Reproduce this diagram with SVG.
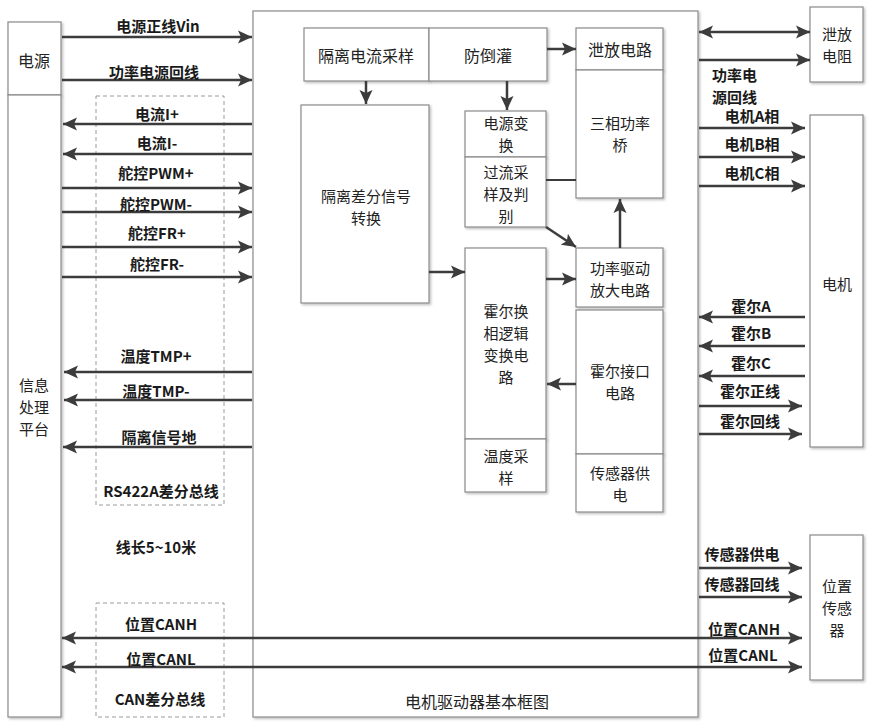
<svg xmlns="http://www.w3.org/2000/svg" width="873" height="726" viewBox="0 0 873 726">
<defs>
<filter id="sh" x="-10%" y="-10%" width="130%" height="130%"><feDropShadow dx="1.5" dy="1.5" stdDeviation="1" flood-color="#000" flood-opacity="0.25"/></filter>
<marker id="ah" markerUnits="userSpaceOnUse" markerWidth="15" markerHeight="14" refX="14" refY="7" orient="auto-start-reverse"><path d="M0,0.5 L14,7 L0,13.5 L3,7 z" fill="#3c3c3c"/></marker>
<style>
.box{fill:#fff;stroke:#8a8a8a;stroke-width:1.2;filter:url(#sh)}
.dash{fill:none;stroke:#9a9a9a;stroke-width:1;stroke-dasharray:4 3}
.lbl{font-family:"Noto Sans CJK SC","Noto Sans",sans-serif;font-weight:bold;font-size:15px;fill:#1a1a1a;text-anchor:middle;dominant-baseline:central}
.bt{font-family:"Noto Sans CJK SC","Noto Sans",sans-serif;font-size:15px;fill:#222;text-anchor:middle;dominant-baseline:central}
.ln{stroke:#3c3c3c;stroke-width:2.5;fill:none;marker-end:url(#ah)}
.dbl{marker-start:url(#ah)}
.pl{stroke:#3c3c3c;stroke-width:2;fill:none}
</style>
</defs>
<rect width="873" height="726" fill="#fff"/>

<g id="main-box"><rect class="box" x="253" y="11" width="445" height="706"/><text class="bt" x="477" y="701" style="font-size:16px">电机驱动器基本框图</text></g>
<g id="power-src"><rect class="box" x="8" y="22" width="53" height="73"/><text class="bt" x="34" y="60" style="font-size:16px">电源</text></g>
<g id="info-platform"><rect class="box" x="8" y="95" width="53" height="622"/><text class="bt" x="34" y="384">信息</text><text class="bt" x="34" y="406">处理</text><text class="bt" x="34" y="428">平台</text></g>
<g id="bleed-res"><rect class="box" x="810" y="7" width="53" height="75"/><text class="bt" x="837" y="33">泄放</text><text class="bt" x="837" y="55">电阻</text></g>
<g id="motor"><rect class="box" x="810" y="115" width="53" height="332"/><text class="bt" x="837" y="283">电机</text></g>
<g id="pos-sensor"><rect class="box" x="810" y="535" width="53" height="145"/><text class="bt" x="837" y="585">位置</text><text class="bt" x="837" y="607">传感</text><text class="bt" x="837" y="629">器</text></g>

<g id="rs422-bus"><rect class="dash" x="96" y="96" width="128" height="409"/><text class="lbl" x="161" y="490">RS422A差分总线</text></g>
<g id="can-bus"><rect class="dash" x="96" y="603" width="128" height="114"/><text class="lbl" x="160" y="698">CAN差分总线</text></g>
<text class="lbl" x="156" y="546">线长5~10米</text>

<g id="iso-cur"><rect class="box" x="304" y="28" width="125" height="53"/><text class="bt" x="366" y="55" style="font-size:16px">隔离电流采样</text></g>
<g id="anti-back"><rect class="box" x="429" y="28" width="118" height="53"/><text class="bt" x="488" y="55" style="font-size:16px">防倒灌</text></g>
<g id="bleed-circ"><rect class="box" x="576" y="28" width="87" height="42"/><text class="bt" x="620" y="49" style="font-size:16px">泄放电路</text></g>
<g id="bridge"><rect class="box" x="576" y="70" width="87" height="128"/><text class="bt" x="620" y="122">三相功率</text><text class="bt" x="620" y="144">桥</text></g>
<g id="iso-diff"><rect class="box" x="301" y="105" width="128" height="198"/><text class="bt" x="366" y="195">隔离差分信号</text><text class="bt" x="366" y="217">转换</text></g>
<g id="pwr-conv"><rect class="box" x="465" y="111" width="81" height="46"/><text class="bt" x="506" y="122">电源变</text><text class="bt" x="506" y="144">换</text></g>
<g id="oc-detect"><rect class="box" x="465" y="157" width="81" height="70"/><text class="bt" x="506" y="171">过流采</text><text class="bt" x="506" y="193">样及判</text><text class="bt" x="506" y="215">别</text></g>
<g id="pwr-drive"><rect class="box" x="576" y="248" width="87" height="59"/><text class="bt" x="620" y="267">功率驱动</text><text class="bt" x="620" y="289">放大电路</text></g>
<g id="hall-logic"><rect class="box" x="465" y="248" width="81" height="191"/><text class="bt" x="506" y="310">霍尔换</text><text class="bt" x="506" y="332">相逻辑</text><text class="bt" x="506" y="354">变换电</text><text class="bt" x="506" y="376">路</text></g>
<g id="temp-sample"><rect class="box" x="465" y="439" width="81" height="53"/><text class="bt" x="506" y="455">温度采</text><text class="bt" x="506" y="477">样</text></g>
<g id="hall-if"><rect class="box" x="576" y="310" width="87" height="144"/><text class="bt" x="620" y="370">霍尔接口</text><text class="bt" x="620" y="392">电路</text></g>
<g id="sensor-pwr"><rect class="box" x="576" y="454" width="87" height="58"/><text class="bt" x="620" y="472">传感器供</text><text class="bt" x="620" y="494">电</text></g>

<g id="connectors">
<line class="ln" x1="62" y1="37" x2="252" y2="37"/>
<line class="ln" x1="62" y1="80" x2="252" y2="80"/>
<line class="ln" x1="252" y1="124" x2="63" y2="124"/>
<line class="ln" x1="252" y1="154" x2="63" y2="154"/>
<line class="ln" x1="62" y1="188" x2="252" y2="188"/>
<line class="ln" x1="62" y1="212" x2="252" y2="212"/>
<line class="ln" x1="62" y1="247" x2="252" y2="247"/>
<line class="ln" x1="62" y1="277" x2="252" y2="277"/>
<line class="ln" x1="252" y1="372" x2="64" y2="372"/>
<line class="ln" x1="252" y1="400" x2="64" y2="400"/>
<line class="ln" x1="252" y1="447" x2="63" y2="447"/>
<line class="ln dbl" x1="62" y1="638" x2="802" y2="638"/>
<line class="ln dbl" x1="62" y1="667" x2="802" y2="667"/>

<line class="ln dbl" x1="699" y1="32" x2="810" y2="32"/>
<line class="ln" x1="699" y1="60" x2="810" y2="60"/>
<line class="ln" x1="699" y1="128" x2="805" y2="128"/>
<line class="ln" x1="699" y1="157" x2="805" y2="157"/>
<line class="ln" x1="699" y1="186" x2="805" y2="186"/>
<line class="ln" x1="805" y1="317" x2="699" y2="317"/>
<line class="ln" x1="805" y1="346" x2="699" y2="346"/>
<line class="ln" x1="805" y1="376" x2="699" y2="376"/>
<line class="ln" x1="699" y1="406" x2="802" y2="406"/>
<line class="ln" x1="699" y1="434" x2="802" y2="434"/>
<line class="ln" x1="699" y1="568" x2="802" y2="568"/>
<line class="ln" x1="699" y1="597" x2="802" y2="597"/>

<line class="ln" x1="366" y1="81" x2="366" y2="104"/>
<line class="ln" x1="507" y1="81" x2="507" y2="110"/>
<line class="ln" x1="547" y1="49" x2="576" y2="49"/>
<line class="pl" x1="546" y1="180" x2="576" y2="180"/>
<line class="ln" x1="546" y1="227" x2="576" y2="247"/>
<line class="ln" x1="620" y1="248" x2="620" y2="199"/>
<line class="ln" x1="429" y1="272" x2="465" y2="272"/>
<line class="ln" x1="546" y1="279" x2="576" y2="279"/>
<line class="ln" x1="576" y1="384" x2="547" y2="384"/>
</g>

<g id="labels">
<text class="lbl" x="158" y="25">电源正线Vin</text>
<text class="lbl" x="154" y="71">功率电源回线</text>
<text class="lbl" x="157" y="113">电流I+</text>
<text class="lbl" x="157" y="142">电流I-</text>
<text class="lbl" x="156" y="172">舵控PWM+</text>
<text class="lbl" x="156" y="203">舵控PWM-</text>
<text class="lbl" x="157" y="232">舵控FR+</text>
<text class="lbl" x="157" y="263">舵控FR-</text>
<text class="lbl" x="156" y="355">温度TMP+</text>
<text class="lbl" x="156" y="390">温度TMP-</text>
<text class="lbl" x="159" y="436">隔离信号地</text>
<text class="lbl" x="161" y="623">位置CANH</text>
<text class="lbl" x="161" y="658">位置CANL</text>
<text class="lbl" x="712" y="74" style="text-anchor:start">功率电</text>
<text class="lbl" x="712" y="96" style="text-anchor:start">源回线</text>
<text class="lbl" x="752" y="115">电机A相</text>
<text class="lbl" x="752" y="143">电机B相</text>
<text class="lbl" x="752" y="172">电机C相</text>
<text class="lbl" x="751" y="305">霍尔A</text>
<text class="lbl" x="751" y="332">霍尔B</text>
<text class="lbl" x="751" y="362">霍尔C</text>
<text class="lbl" x="750" y="390">霍尔正线</text>
<text class="lbl" x="750" y="420">霍尔回线</text>
<text class="lbl" x="742" y="553">传感器供电</text>
<text class="lbl" x="742" y="583">传感器回线</text>
<text class="lbl" x="744" y="628">位置CANH</text>
<text class="lbl" x="743" y="654">位置CANL</text>
</g>
</svg>
